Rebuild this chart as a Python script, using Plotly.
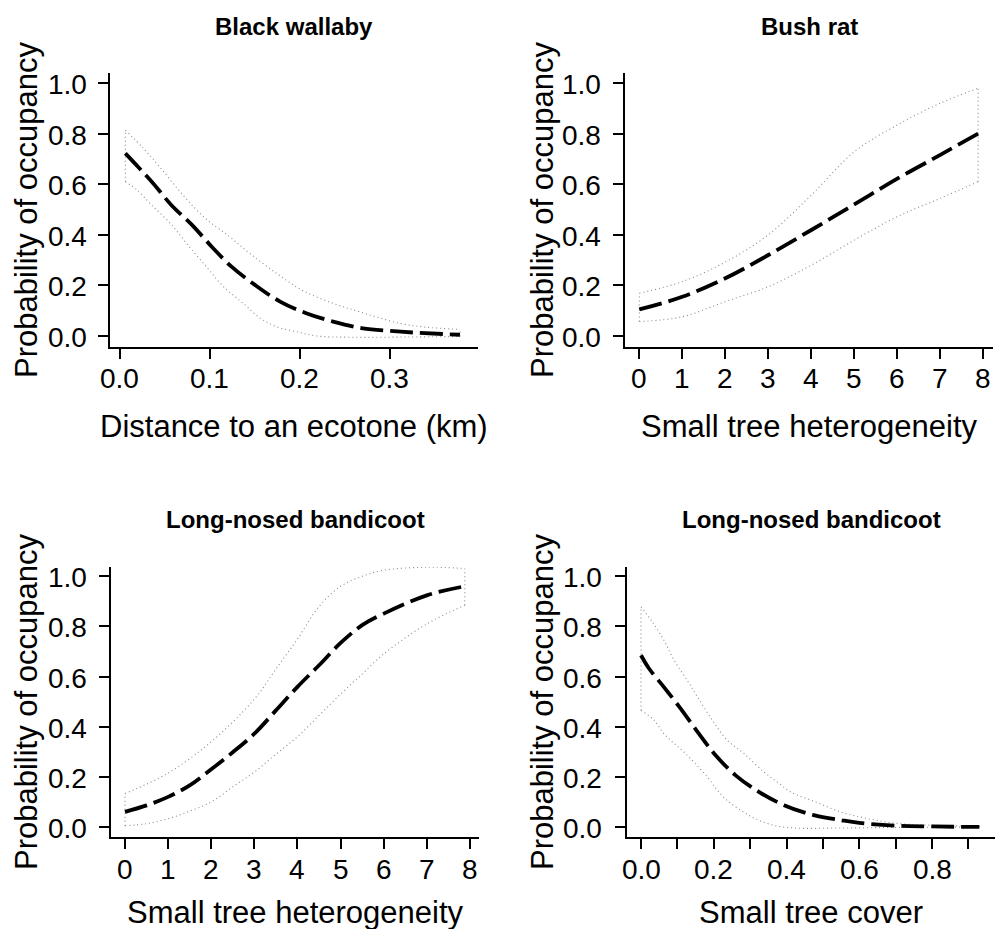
import plotly.graph_objects as go

# ---- Black wallaby: occupancy vs distance to an ecotone (km) ----
bw_mean_x = [0.006, 0.020, 0.037, 0.057, 0.080, 0.102, 0.124, 0.150, 0.178, 0.207, 0.237, 0.270, 0.300, 0.330, 0.378]
bw_mean_y = [0.722, 0.669, 0.603, 0.518, 0.439, 0.353, 0.274, 0.202, 0.136, 0.090, 0.057, 0.030, 0.020, 0.013, 0.005]
bw_up_x = [0.006, 0.026, 0.044, 0.067, 0.093, 0.122, 0.144, 0.174, 0.202, 0.237, 0.267, 0.311, 0.340, 0.378]
bw_up_y = [0.814, 0.742, 0.669, 0.570, 0.471, 0.392, 0.327, 0.248, 0.182, 0.129, 0.095, 0.050, 0.035, 0.026]
bw_lo_x = [0.006, 0.019, 0.035, 0.056, 0.074, 0.096, 0.115, 0.137, 0.156, 0.174, 0.196, 0.219, 0.260, 0.320, 0.378]
bw_lo_y = [0.610, 0.577, 0.518, 0.445, 0.366, 0.274, 0.195, 0.129, 0.070, 0.037, 0.017, 0.000, -0.005, -0.004, -0.002]

# ---- Bush rat: occupancy vs small tree heterogeneity ----
br_x = [0, 1, 2, 3, 4, 5, 6, 7, 7.88]
br_mean = [0.105, 0.155, 0.228, 0.320, 0.419, 0.520, 0.622, 0.716, 0.800]
br_up = [0.169, 0.215, 0.292, 0.400, 0.557, 0.728, 0.834, 0.920, 0.979]
br_lo = [0.057, 0.076, 0.136, 0.195, 0.280, 0.379, 0.472, 0.544, 0.610]

# ---- Long-nosed bandicoot: occupancy vs small tree heterogeneity ----
lh_mean_x = [0, 0.5, 1, 1.5, 2, 2.5, 3, 3.5, 4, 4.5, 5, 5.5, 6, 7, 7.88]
lh_mean_y = [0.060, 0.086, 0.120, 0.166, 0.230, 0.298, 0.372, 0.465, 0.559, 0.645, 0.734, 0.805, 0.851, 0.924, 0.960]
lh_up_x = [0, 1, 2, 3, 3.5, 4, 4.5, 5, 5.5, 6, 7, 7.88]
lh_up_y = [0.133, 0.215, 0.340, 0.510, 0.630, 0.750, 0.880, 0.960, 1.000, 1.024, 1.036, 1.031]
lh_lo_x = [0, 0.5, 1, 1.5, 2, 2.5, 3, 3.5, 4, 4.5, 5, 5.5, 6, 7, 7.88]
lh_lo_y = [0.005, 0.013, 0.033, 0.063, 0.100, 0.160, 0.219, 0.290, 0.360, 0.445, 0.530, 0.610, 0.690, 0.810, 0.884]

# ---- Long-nosed bandicoot: occupancy vs small tree cover ----
lc_mean_x = [0.0, 0.022, 0.063, 0.109, 0.159, 0.205, 0.260, 0.324, 0.393, 0.475, 0.550, 0.600, 0.700, 0.800, 0.930]
lc_mean_y = [0.685, 0.632, 0.558, 0.472, 0.372, 0.286, 0.206, 0.140, 0.087, 0.047, 0.027, 0.016, 0.005, 0.002, 0.000]
lc_up_x = [0.0, 0.031, 0.063, 0.091, 0.127, 0.155, 0.196, 0.237, 0.283, 0.338, 0.374, 0.411, 0.480, 0.548, 0.612, 0.694, 0.800, 0.930]
lc_up_y = [0.878, 0.818, 0.745, 0.665, 0.585, 0.519, 0.426, 0.346, 0.293, 0.219, 0.180, 0.140, 0.100, 0.060, 0.037, 0.016, 0.007, 0.003]
lc_lo_x = [0.0, 0.036, 0.063, 0.091, 0.118, 0.149, 0.186, 0.210, 0.237, 0.274, 0.314, 0.364, 0.419, 0.550, 0.700, 0.930]
lc_lo_y = [0.465, 0.426, 0.372, 0.333, 0.299, 0.253, 0.193, 0.146, 0.106, 0.067, 0.033, 0.007, -0.004, -0.004, -0.002, 0.000]

# tick labels
y_tick_vals = [0, 0.2, 0.4, 0.6, 0.8, 1.0]
y_tick_text = ["0.0", "0.2", "0.4", "0.6", "0.8", "1.0"]
bw_tick_vals = [0, 0.1, 0.2, 0.3]
bw_tick_text = ["0.0", "0.1", "0.2", "0.3"]
het_tick_vals = [0, 1, 2, 3, 4, 5, 6, 7, 8]
het_tick_text = ["0", "1", "2", "3", "4", "5", "6", "7", "8"]
cov_tick_vals = [0, 0.1, 0.2, 0.3, 0.4, 0.5, 0.6, 0.7, 0.8, 0.9]
cov_tick_text = ["0.0", "", "0.2", "", "0.4", "", "0.6", "", "0.8", ""]

panels = [
    dict(title="Black wallaby", xlab="Distance to an ecotone (km)",
         mx=bw_mean_x, my=bw_mean_y, ux=bw_up_x, uy=bw_up_y, lx=bw_lo_x, ly=bw_lo_y,
         xt=bw_tick_vals, xl=bw_tick_text),
    dict(title="Bush rat", xlab="Small tree heterogeneity",
         mx=br_x, my=br_mean, ux=br_x, uy=br_up, lx=br_x, ly=br_lo,
         xt=het_tick_vals, xl=het_tick_text),
    dict(title="Long-nosed bandicoot", xlab="Small tree heterogeneity",
         mx=lh_mean_x, my=lh_mean_y, ux=lh_up_x, uy=lh_up_y, lx=lh_lo_x, ly=lh_lo_y,
         xt=het_tick_vals, xl=het_tick_text),
    dict(title="Long-nosed bandicoot", xlab="Small tree cover",
         mx=lc_mean_x, my=lc_mean_y, ux=lc_up_x, uy=lc_up_y, lx=lc_lo_x, ly=lc_lo_y,
         xt=cov_tick_vals, xl=cov_tick_text),
]

W, H = 995, 929
FONT = "Liberation Sans, Arial, Helvetica, sans-serif"

# plot-area boxes in pixels: (left, right, top, bottom)
boxes = [(110, 478, 73, 347), (625, 993, 73, 347),
         (111, 479, 567, 837), (627, 995, 567, 837)]
xranges = [[-0.0111, 0.398], [-0.333, 8.226], [-0.325, 8.21], [-0.0385, 0.973]]
yranges = [[-0.0435, 1.0395], [-0.0435, 1.0395], [-0.040, 1.037], [-0.040, 1.037]]
# text placement (pixels): panel title y, axis title y, y-title x, y-label right edge, x-label y
title_y = [26, 26, 519, 519]
xlab_y = [426, 426, 912, 912]
ylab_x = [26, 542, 26, 542]
ytick_right = [89, 603, 89, 604]
xtick_y = [378, 378, 869, 869]

fig = go.Figure()
ci_line = dict(color="#8a8a8a", width=1.1, dash="1px,3px")
mean_line = dict(color="black", width=3.8, dash="23px,7px")


def px_x(v):
    return v / W


def px_y(v):
    return 1 - v / H


annotations = []
layout = {}
for i, (p, box) in enumerate(zip(panels, boxes)):
    n = "" if i == 0 else str(i + 1)
    xa, ya = "x" + n, "y" + n
    # confidence band outline
    fig.add_trace(go.Scatter(x=p["ux"], y=p["uy"], mode="lines", line=dict(shape="spline", **ci_line),
                             xaxis=xa, yaxis=ya, hoverinfo="skip"))
    fig.add_trace(go.Scatter(x=p["lx"], y=p["ly"], mode="lines", line=dict(shape="spline", **ci_line),
                             xaxis=xa, yaxis=ya, hoverinfo="skip"))
    fig.add_trace(go.Scatter(x=[p["lx"][0], p["ux"][0]], y=[p["ly"][0], p["uy"][0]], mode="lines",
                             line=ci_line, xaxis=xa, yaxis=ya, hoverinfo="skip"))
    fig.add_trace(go.Scatter(x=[p["lx"][-1], p["ux"][-1]], y=[p["ly"][-1], p["uy"][-1]], mode="lines",
                             line=ci_line, xaxis=xa, yaxis=ya, hoverinfo="skip"))
    # fitted occupancy
    fig.add_trace(go.Scatter(x=p["mx"], y=p["my"], mode="lines", line=dict(shape="spline", **mean_line),
                             xaxis=xa, yaxis=ya))

    l, r, t, b = box
    common = dict(showline=True, linecolor="black", linewidth=2, ticks="outside", ticklen=10,
                  tickwidth=2, tickcolor="black", showgrid=False, zeroline=False,
                  showticklabels=False, fixedrange=True, tickmode="array")
    layout["xaxis" + n] = dict(domain=[l / W, r / W], range=xranges[i], anchor=ya,
                               tickvals=p["xt"], **common)
    layout["yaxis" + n] = dict(domain=[1 - b / H, 1 - t / H], range=yranges[i], anchor=xa,
                               tickvals=y_tick_vals, **common)

    tick_font = dict(family=FONT, size=28, color="black")
    for v, s in zip(y_tick_vals, y_tick_text):
        annotations.append(dict(text=s, x=px_x(ytick_right[i]), y=v, xref="paper", yref=ya,
                                xanchor="right", yanchor="middle", yshift=-1.5,
                                showarrow=False, font=tick_font))
    for v, s in zip(p["xt"], p["xl"]):
        if s:
            annotations.append(dict(text=s, x=v, y=px_y(xtick_y[i]), xref=xa, yref="paper",
                                    xanchor="center", yanchor="middle",
                                    showarrow=False, font=tick_font))

    cx = (l + r) / 2
    annotations += [
        dict(text=p["title"], x=px_x(cx), y=px_y(title_y[i]), xref="paper", yref="paper",
             showarrow=False, xanchor="center", yanchor="middle",
             font=dict(family=FONT, size=24, color="black", weight="bold")),
        dict(text=p["xlab"], x=px_x(cx), y=px_y(xlab_y[i]), xref="paper", yref="paper",
             showarrow=False, xanchor="center", yanchor="middle",
             font=dict(family=FONT, size=31, color="black")),
        dict(text="Probability of occupancy", x=px_x(ylab_x[i]), y=px_y((t + b) / 2),
             xref="paper", yref="paper", showarrow=False, textangle=-90,
             xanchor="center", yanchor="middle",
             font=dict(family=FONT, size=31, color="black")),
    ]

fig.update_layout(width=W, height=H, margin=dict(l=0, r=0, t=0, b=0),
                  paper_bgcolor="white", plot_bgcolor="white", showlegend=False,
                  annotations=annotations, **layout)

fig.write_html("out.html")
